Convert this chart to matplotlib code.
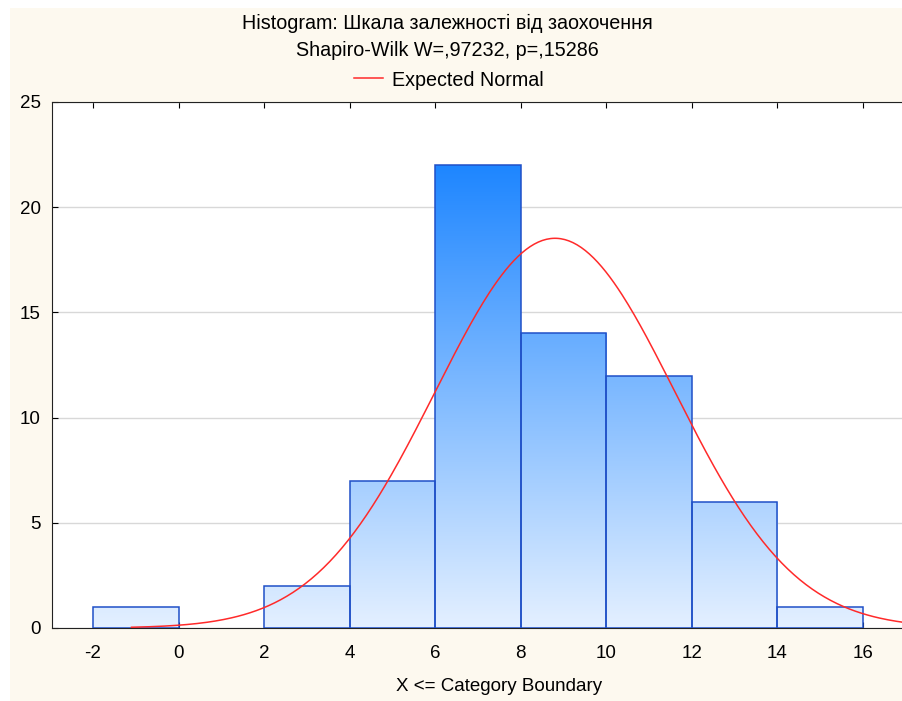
import numpy as np
import matplotlib.pyplot as plt
from matplotlib.colors import LinearSegmentedColormap
from matplotlib.patches import Rectangle
from matplotlib.lines import Line2D

plt.rcParams['font.family'] = ['Liberation Sans', 'DejaVu Sans']
plt.rcParams['axes.unicode_minus'] = False

# histogram data
bin_edges = [-2, 0, 2, 4, 6, 8, 10, 12, 14, 16]
counts = [1, 0, 2, 7, 22, 14, 12, 6, 1]
x_ticks = [-2, 0, 2, 4, 6, 8, 10, 12, 14, 16]
y_ticks = [0, 5, 10, 15, 20, 25]

# expected normal parameters
n_total = sum(counts)
mu = 8.8
sigma = 2.8
bin_width = 2

cream = '#fdf9ef'
fig = plt.figure(figsize=(9.02, 7.01), dpi=100)
fig.patch.set_facecolor('white')
fig.patches.append(Rectangle((10 / 902, 0), 1, 1 - 8 / 701, transform=fig.transFigure,
                             facecolor=cream, edgecolor='none', zorder=-10))

# axes run past the right edge of the picture, as in the reference
px_per_unit = 42.78
ax_w_px = 902 * 1.05 - 52
ax = fig.add_axes([52 / 902, 1 - 628 / 701, ax_w_px / 902, (628 - 102) / 701])
ax.set_facecolor('white')
xmin = -2 - 41 / px_per_unit
xmax = xmin + ax_w_px / px_per_unit
ax.set_xlim(xmin, xmax)
ax.set_ylim(0, 25)

cmap = LinearSegmentedColormap.from_list('bl', ['#e4f0ff', '#1e86ff'])
grad = np.linspace(0, 1, 256).reshape(-1, 1)
for left, c in zip(bin_edges[:-1], counts):
    if c == 0:
        continue
    rect = Rectangle((left, 0), bin_width, c, facecolor='none', edgecolor='#1f50c8',
                     linewidth=1.1, zorder=3)
    ax.add_patch(rect)
    im = ax.imshow(grad, cmap=cmap, extent=(bin_edges[0], bin_edges[-1], 0, max(counts)),
                   origin='lower', aspect='auto', zorder=2, vmin=0, vmax=1)
    im.set_clip_path(rect)

xs = np.linspace(-1.1, xmax, 400)
ys = n_total * bin_width / (sigma * np.sqrt(2 * np.pi)) * np.exp(-0.5 * ((xs - mu) / sigma) ** 2)
ax.plot(xs, ys, color='#ff2a2a', linewidth=1.1, zorder=4)

ax.set_xticks(x_ticks)
ax.set_yticks(y_ticks)
ax.tick_params(direction='in', length=4, labelsize=13.5, top=True, pad=12)
ax.tick_params(axis='y', pad=8)
ax.yaxis.grid(True, color='#d8d8d8', linewidth=1)
ax.set_axisbelow(True)
for s in ['left', 'bottom', 'top']:
    ax.spines[s].set_color('#222222')
ax.spines['right'].set_visible(False)
ax.set_xlabel('X <= Category Boundary', fontsize=13.5, labelpad=12)

fig.text(447 / 902, 1 - 23 / 701, 'Histogram: Шкала залежності від заохочення',
         ha='center', va='center', fontsize=14.2)
fig.text(447 / 902, 1 - 51 / 701, 'Shapiro-Wilk W=,97232, p=,15286',
         ha='center', va='center', fontsize=14.2)
fig.lines.append(Line2D([354 / 902, 383 / 902], [1 - 78 / 701, 1 - 78 / 701],
                        transform=fig.transFigure, color='#ff2a2a', linewidth=1.1))
fig.text(392 / 902, 1 - 80 / 701, 'Expected Normal', ha='left', va='center', fontsize=14.2)

fig.savefig('out.png', dpi=100, facecolor=fig.get_facecolor())
